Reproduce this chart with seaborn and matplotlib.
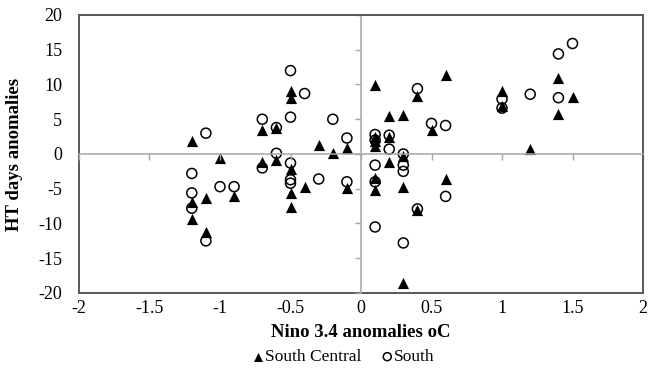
import matplotlib
matplotlib.use("Agg")
import matplotlib.pyplot as plt
import numpy as np
import pandas as pd
import seaborn as sns

# South Central (filled triangles)
sc_x = [-1.2, -1.2, -1.2, -1.1, -1.1, -1.0, -0.9, -0.7, -0.7, -0.6, -0.6,
        -0.5, -0.5, -0.5, -0.5, -0.5, -0.4, -0.3, -0.2, -0.1, -0.1,
        0.1, 0.1, 0.1, 0.1, 0.1, 0.1, 0.2, 0.2, 0.2, 0.3, 0.3, 0.3, 0.3,
        0.4, 0.4, 0.5, 0.6, 0.6, 1.0, 1.0, 1.2, 1.4, 1.4, 1.5]
sc_y = [1.9, -6.9, -9.4, -6.4, -11.2, -0.6, -6.0, 3.5, -1.2, 3.8, -0.9,
        9.1, 8.0, -2.1, -5.6, -7.6, -4.7, 1.3, 0.1, 0.8, -4.9,
        9.9, 2.5, 1.9, 1.1, -3.5, -5.2, 5.4, 2.5, -1.1, 5.6, -0.3, -4.7, -18.6,
        8.4, -8.0, 3.5, 11.4, -3.6, 9.1, 6.9, 0.7, 11.0, 5.7, 8.2]

# South (open circles)
s_x = [-1.2, -1.2, -1.2, -1.1, -1.1, -1.0, -0.9, -0.7, -0.7, -0.6, -0.6,
       -0.5, -0.5, -0.5, -0.5, -0.5, -0.4, -0.3, -0.2, -0.1, -0.1,
       0.1, 0.1, 0.1, 0.1, 0.1, 0.2, 0.2, 0.3, 0.3, 0.3, 0.3,
       0.4, 0.4, 0.5, 0.6, 0.6, 1.0, 1.0, 1.2, 1.4, 1.4, 1.5]
s_y = [-2.8, -5.6, -7.8, 3.0, -12.5, -4.7, -4.7, 5.0, -2.0, 3.8, 0.1,
       12.0, 5.3, -1.3, -3.7, -4.2, 8.7, -3.6, 5.0, 2.3, -4.0,
       2.8, 2.0, -1.6, -4.0, -10.5, 2.7, 0.7, 0.0, -1.6, -2.5, -12.8,
       9.4, -7.9, 4.4, 4.1, -6.1, 7.9, 6.6, 8.6, 14.4, 8.1, 15.9]

x_ticks = np.arange(-2, 2.01, 0.5)
y_ticks = np.arange(-20, 21, 5)

plt.rcParams["font.family"] = ["Liberation Serif", "DejaVu Serif"]
plt.rcParams["axes.unicode_minus"] = False

df_sc = pd.DataFrame({"x": sc_x, "y": sc_y})
df_s = pd.DataFrame({"x": s_x, "y": s_y})

fig = plt.figure(figsize=(6.49, 3.74), dpi=100)
ax = fig.add_axes([0.1217, 0.2166, 0.8691, 0.7433])

sns.scatterplot(data=df_sc, x="x", y="y", marker="^", color="black",
                s=65, linewidth=0, ax=ax, label="South Central")
sns.scatterplot(data=df_s, x="x", y="y", marker="o", facecolor="none",
                edgecolor="black", linewidth=1.1, s=52, ax=ax, label="South")

ax.set_xlim(-2, 2)
ax.set_ylim(-20, 20)
ax.set_xlabel("")
ax.set_ylabel("")
ax.set_xticks(x_ticks)
ax.set_yticks(y_ticks)

# zero lines with small tick marks, like the Excel original
zero_col = "#a6a6a6"
frame_col = "#595959"
ax.spines["left"].set_position(("data", 0))
ax.spines["bottom"].set_position(("data", 0))
ax.spines["left"].set_color(zero_col)
ax.spines["bottom"].set_color(zero_col)
ax.spines["left"].set_linewidth(1.1)
ax.spines["bottom"].set_linewidth(1.1)
for side in ["top", "right"]:
    ax.spines[side].set_color(frame_col)
    ax.spines[side].set_linewidth(1.4)
ax.tick_params(axis="both", length=4, width=1, color=zero_col,
               labelleft=False, labelbottom=False)

# labels on the outer frame
fmt = matplotlib.ticker.FuncFormatter(lambda v, p: f"{v:g}")
sec_x = ax.secondary_xaxis("bottom")
sec_x.set_xticks(x_ticks)
sec_x.xaxis.set_major_formatter(fmt)
sec_x.tick_params(length=0, labelsize=13, pad=5)
sec_x.spines["bottom"].set_color(frame_col)
sec_x.spines["bottom"].set_linewidth(1.4)
sec_x.set_xlabel("Nino 3.4 anomalies oC", fontsize=13.5, fontweight="bold", labelpad=5)

sec_y = ax.secondary_yaxis("left")
sec_y.set_yticks(y_ticks)
sec_y.yaxis.set_major_formatter(fmt)
sec_y.tick_params(length=0, labelsize=13, pad=12)
sec_y.spines["left"].set_color(frame_col)
sec_y.spines["left"].set_linewidth(1.4)
sec_y.set_ylabel("HT days anomalies", fontsize=13.5, fontweight="bold", labelpad=11)

handles, labels = ax.get_legend_handles_labels()
ax.legend_.remove()
fig.legend(handles, labels, loc="center", bbox_to_anchor=(0.527, 0.045),
           ncol=2, frameon=False, fontsize=12.5, handletextpad=-0.1,
           columnspacing=1.0, markerscale=0.8, handlelength=1.0)

fig.savefig("out.png", dpi=100)
